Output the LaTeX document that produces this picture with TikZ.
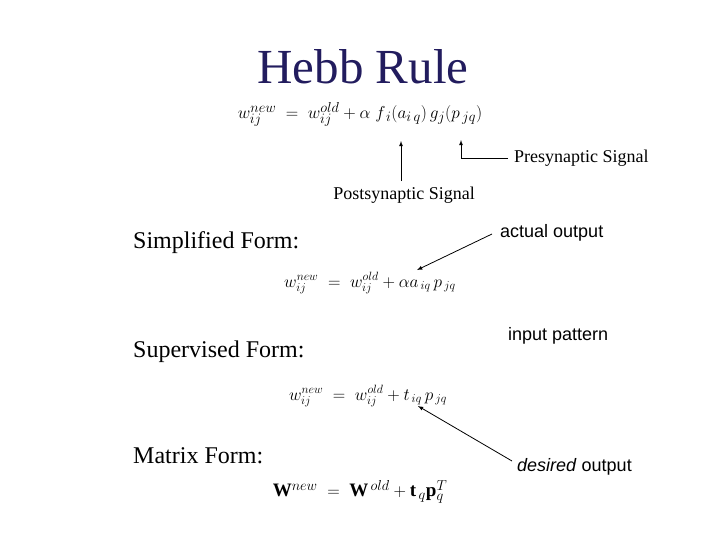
\documentclass[tikz,border=0pt]{standalone}
\usepackage{fontspec}
\setmainfont{Liberation Serif}
\newfontfamily\lsans{Liberation Sans}
\definecolor{navy}{HTML}{221C5E}
\begin{document}
\begin{tikzpicture}[x=1pt,y=-1pt,
  lab/.style={font=\fontsize{18}{22}\selectfont, inner sep=0pt},
  slab/.style={font=\lsans\fontsize{18}{22}\selectfont, inner sep=0pt, anchor=west},
  hdr/.style={font=\fontsize{24}{28}\selectfont, inner sep=0pt, anchor=west},
  eq/.style={font=\fontsize{18}{22}\selectfont, inner sep=0pt},
  arr/.style={-latex, line width=0.8pt}]
\useasboundingbox (0,0) rectangle (728,546);
\node[font=\fontsize{49}{56}\selectfont, text=navy, inner sep=0pt] (title) at (363,67) {Hebb Rule};
\node[eq, font=\fontsize{19}{23}\selectfont] (eq1) at (360,114) {$w_{ij}^{new} \;=\; w_{ij}^{old} + \alpha\; f_{\,i}(a_{i\,q})\,g_j(p_{\,jq})$};
\node[lab] (post) at (404,195) {Postsynaptic Signal};
\coordinate (posttip) at (401,141);
\coordinate (postbase) at (401,181);
\draw[arr] (postbase) -- (posttip);
\node[lab, anchor=west] (pre) at (514,158) {Presynaptic Signal};
\coordinate (pretip) at (461,140);
\draw[arr] (pre.west) ++(-6,0) -| (pretip);
\node[hdr] (simp) at (133,243) {Simplified Form:};
\node[eq] (eq2) at (370,283) {$w_{ij}^{new} \;=\; w_{ij}^{old} + \alpha a_{\,iq}\,p_{\,jq}$};
\node[slab] (act) at (500,233) {actual output};
\coordinate (acttip) at (417,270);
\draw[arr] (act.west) ++(-8,1) -- (acttip);
\node[slab] (inp) at (508,336) {input pattern};
\node[hdr] (sup) at (133,352) {Supervised Form:};
\node[eq] (eq3) at (368,396) {$w_{ij}^{new} \;=\; w_{ij}^{old} + t_{\,iq}\,p_{\,jq}$};
\node[slab] (des) at (517,467) {\textit{desired} output};
\coordinate (destip) at (418,406);
\draw[arr] (des.west) ++(-5,-6) -- (destip);
\node[hdr] (mat) at (133,456) {Matrix Form:};
\node[eq, font=\fontsize{19}{22}\selectfont] (eq4) at (360,492) {$\mathbf{W}^{new} \;=\; \mathbf{W}^{\,old} + \mathbf{t}_{\,q}\mathbf{p}_{q}^{T}$};
\end{tikzpicture}
\end{document}
